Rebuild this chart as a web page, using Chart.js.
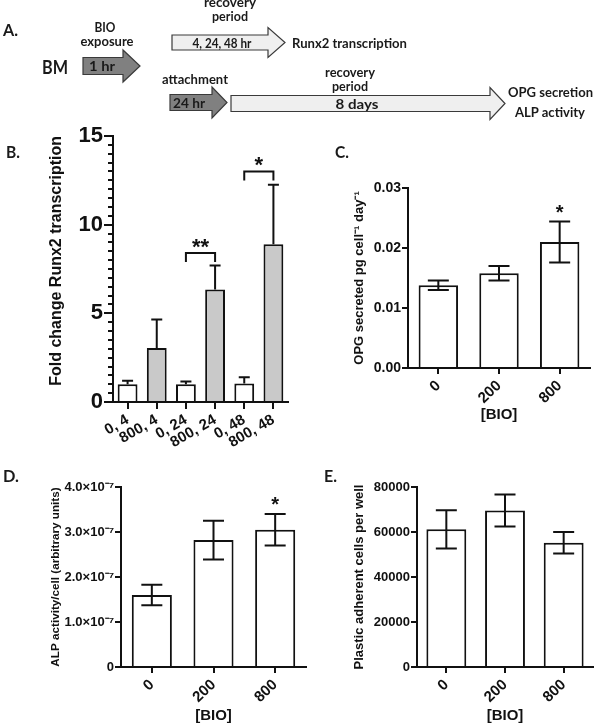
<!DOCTYPE html>
<html><head><meta charset="utf-8">
<script src="https://cdn.jsdelivr.net/npm/chart.js@4.4.1/dist/chart.umd.min.js"></script>
<style>
html,body{margin:0;padding:0;background:#fff;}
#wrap{position:relative;width:602px;height:725px;overflow:hidden;background:#fff;}
#wrap canvas,#wrap svg{position:absolute;}
</style></head>
<body><div id="wrap">
<canvas id="cB" width="300" height="330" style="left:0;top:120px"></canvas>
<canvas id="cC" width="302" height="295" style="left:300px;top:130px"></canvas>
<canvas id="cD" width="310" height="275" style="left:0;top:450px"></canvas>
<canvas id="cE" width="292" height="275" style="left:310px;top:450px"></canvas>
<svg id="ov" width="602" height="725" style="left:0;top:0;pointer-events:none" xmlns="http://www.w3.org/2000/svg"></svg>
</div>
<script>
// ---------- data ----------
const runxCategories = ['0, 4', '800, 4', '0, 24', '800, 24', '0, 48', '800, 48'];
const runxValues = [1.0, 3.05, 1.0, 6.35, 1.05, 8.9];
const runxErrors = [0.2, 1.6, 0.15, 1.35, 0.35, 3.35];
const runxTickLabels = ['0', '5', '10', '15'];
const runxBrackets = [
  { from: 2, to: 3, value: 8.4, label: '**' },
  { from: 4, to: 5, value: 13.0, label: '*' }
];

const bioCategories = ['0', '200', '800'];

const opgValues = [0.0138, 0.0158, 0.0210];
const opgErrors = [0.0008, 0.0012, 0.0034];
const opgStars = ['', '', '*'];
const opgTickLabels = ['0.00', '0.01', '0.02', '0.03'];

const alpValues = [1.6e-7, 2.82e-7, 3.05e-7];
const alpErrors = [0.23e-7, 0.43e-7, 0.35e-7];
const alpStars = ['', '', '*'];
const alpTickLabels = ['0', '1.0×10⁻⁷', '2.0×10⁻⁷', '3.0×10⁻⁷', '4.0×10⁻⁷'];

const cellValues = [61200, 69600, 55200];
const cellErrors = [8500, 7100, 4800];
const cellTickLabels = ['0', '20000', '40000', '60000', '80000'];

// ---------- chart defaults ----------
Chart.defaults.font.family = "'Liberation Sans', Arial, sans-serif";
Chart.defaults.font.weight = 'bold';
Chart.defaults.color = '#111';
Chart.defaults.animation = false;
Chart.defaults.responsive = false;
Chart.defaults.devicePixelRatio = 1;
Chart.defaults.plugins.legend.display = false;
Chart.defaults.plugins.tooltip.enabled = false;

const INK = '#111';

const errorBarPlugin = {
  id: 'errbars',
  afterDatasetsDraw(chart, args, opts) {
    const { ctx } = chart;
    const y = chart.scales.y;
    chart.data.datasets.forEach((ds, di) => {
      if (!ds.errors) return;
      const meta = chart.getDatasetMeta(di);
      meta.data.forEach((bar, i) => {
        const v = ds.data[i], e = ds.errors[i];
        const cx = bar.x;
        const yTop = y.getPixelForValue(v + e);
        const yBot = y.getPixelForValue(opts.oneSided ? v : v - e);
        ctx.save();
        ctx.strokeStyle = INK; ctx.lineWidth = 2; ctx.lineCap = 'butt';
        ctx.beginPath();
        ctx.moveTo(cx, yBot); ctx.lineTo(cx, yTop);
        ctx.moveTo(cx - opts.cap, yTop); ctx.lineTo(cx + opts.cap, yTop);
        if (!opts.oneSided) { ctx.moveTo(cx - opts.cap, yBot); ctx.lineTo(cx + opts.cap, yBot); }
        ctx.stroke();
        if (ds.stars && ds.stars[i]) {
          ctx.fillStyle = INK;
          ctx.font = 'bold ' + opts.starSize + "px 'Liberation Sans', Arial";
          ctx.textAlign = 'center'; ctx.textBaseline = 'alphabetic';
          const cy = yTop - opts.starGap;
          ctx.fillText(ds.stars[i], cx, cy + 0.57 * opts.starSize);
        }
        ctx.restore();
      });
    });
  }
};

const minorTickPlugin = {
  id: 'minorticks',
  afterDraw(chart, args, opts) {
    if (!opts.step) return;
    const { ctx } = chart;
    const y = chart.scales.y;
    const x0 = chart.chartArea.left;
    ctx.save();
    ctx.strokeStyle = INK; ctx.lineWidth = 2;
    ctx.beginPath();
    for (let k = 0; k * opts.step <= y.max + 1e-9; k++) {
      const v = k * opts.step;
      if (Math.abs(v / opts.major - Math.round(v / opts.major)) < 1e-6) continue;
      const py = Math.round(y.getPixelForValue(v));
      ctx.moveTo(x0 - opts.len, py); ctx.lineTo(x0, py);
    }
    ctx.stroke();
    ctx.restore();
  }
};

const bracketPlugin = {
  id: 'brackets',
  afterDatasetsDraw(chart, args, opts) {
    if (!opts.items) return;
    const { ctx } = chart;
    const x = chart.scales.x, y = chart.scales.y;
    ctx.save();
    ctx.strokeStyle = INK; ctx.lineWidth = 2; ctx.fillStyle = INK;
    opts.items.forEach(b => {
      const xa = x.getPixelForValue(b.from), xb = x.getPixelForValue(b.to);
      const py = y.getPixelForValue(b.value);
      ctx.beginPath();
      ctx.moveTo(xa, py + opts.leg); ctx.lineTo(xa, py); ctx.lineTo(xb, py); ctx.lineTo(xb, py + opts.leg);
      ctx.stroke();
      ctx.font = 'bold ' + opts.size + "px 'Liberation Sans', Arial";
      ctx.textAlign = 'center'; ctx.textBaseline = 'alphabetic';
      ctx.fillText(b.label, (xa + xb) / 2, py - opts.gap + 0.57 * opts.size);
    });
    ctx.restore();
  }
};

function barPanel(id, o) {
  return new Chart(document.getElementById(id), {
    type: 'bar',
    data: {
      labels: o.labels,
      datasets: [{
        data: o.values, errors: o.errors, stars: o.stars,
        backgroundColor: o.bg, borderColor: INK, borderWidth: 2, borderSkipped: 'start',
        barPercentage: o.barPct, categoryPercentage: 1
      }]
    },
    options: {
      layout: { padding: o.pad },
      scales: {
        x: {
          offset: true,
          grid: { offset: false, drawOnChartArea: false, drawTicks: true, tickLength: o.xTick, color: INK, lineWidth: 2 },
          border: { display: true, color: INK, width: 2 },
          ticks: { font: { size: o.xFont, weight: 'bold' }, minRotation: o.rot, maxRotation: o.rot, autoSkip: false, padding: o.xPad },
          title: { display: !!o.xTitle, text: o.xTitle, font: { size: 15, weight: 'bold' }, padding: { top: 0, bottom: o.xTitlePad || 0 } },
          afterFit: s => { s.height = o.xH; }
        },
        y: {
          min: 0, max: o.max,
          ticks: { stepSize: o.step, font: { size: o.yFont, weight: 'bold' }, padding: 1,
                   callback: (v, i) => o.tickLabels[i] !== undefined ? o.tickLabels[i] : '' },
          grid: { drawOnChartArea: false, drawTicks: true, tickLength: o.yTick, color: INK, lineWidth: 2 },
          border: { display: true, color: INK, width: 2 },
          title: { display: true, text: o.yTitle, align: o.yAlign || 'center', font: { size: o.yTitleSize, weight: 'bold' }, padding: { top: o.yTitlePad, bottom: 0 } },
          afterFit: s => { s.width = o.yW; }
        }
      },
      plugins: {
        errbars: { oneSided: !!o.oneSided, cap: o.cap, starSize: 20, starGap: 14 },
        minorticks: o.minor || {},
        brackets: o.brackets || {}
      }
    },
    plugins: [errorBarPlugin, minorTickPlugin, bracketPlugin]
  });
}

// Panel B
barPanel('cB', {
  labels: runxCategories, values: runxValues, errors: runxErrors, oneSided: true,
  bg: ctx => (ctx.dataIndex % 2 ? '#c9c9c9' : '#ffffff'),
  barPct: 0.68, cap: 5.5,
  pad: { left: 0, top: 16, right: 12, bottom: 0 },
  xTick: 7, xFont: 15, rot: 30, xPad: 2, xH: 48,
  max: 15, step: 5, yFont: 22, yTick: 9, tickLabels: runxTickLabels,
  yTitle: 'Fold change Runx2 transcription', yTitleSize: 16, yTitlePad: 47, yAlign: 'end', yW: 113,
  minor: { step: 0.5, major: 5, len: 5 },
  brackets: { items: runxBrackets, leg: 9, size: 22, gap: 12 }
});

// Panel C
barPanel('cC', {
  labels: bioCategories, values: opgValues, errors: opgErrors, stars: opgStars,
  bg: '#ffffff', barPct: 0.65, cap: 10.5,
  pad: { left: 0, top: 58, right: 12, bottom: 0 },
  xTick: 6, xFont: 15, rot: 44, xPad: 3, xH: 57, xTitle: '[BIO]', xTitlePad: 1,
  max: 0.03, step: 0.01, yFont: 14, yTick: 6, tickLabels: opgTickLabels,
  yTitle: 'OPG secreted pg cell⁻¹ day⁻¹', yTitleSize: 13, yTitlePad: 52, yW: 108
});

// Panel D
barPanel('cD', {
  labels: bioCategories, values: alpValues, errors: alpErrors, stars: alpStars,
  bg: '#ffffff', barPct: 0.65, cap: 10.5,
  pad: { left: 0, top: 37, right: 4, bottom: 0 },
  xTick: 6, xFont: 15, rot: 44, xPad: 3, xH: 58, xTitle: '[BIO]', xTitlePad: 0,
  max: 4e-7, step: 1e-7, yFont: 13, yTick: 6, tickLabels: alpTickLabels,
  yTitle: 'ALP activity/cell (arbitrary units)', yTitleSize: 11.7, yTitlePad: 49, yW: 121
});

// Panel E
barPanel('cE', {
  labels: bioCategories, values: cellValues, errors: cellErrors,
  bg: '#ffffff', barPct: 0.68, cap: 10.5,
  pad: { left: 0, top: 37, right: 9, bottom: 0 },
  xTick: 6, xFont: 15, rot: 44, xPad: 3, xH: 58, xTitle: '[BIO]', xTitlePad: 0,
  max: 80000, step: 20000, yFont: 13, yTick: 6, tickLabels: cellTickLabels,
  yTitle: 'Plastic adherent cells per well', yTitleSize: 13, yTitlePad: 42, yW: 107
});

// ---------- Panel A diagram and panel letters (SVG, real text) ----------
const NS = 'http://www.w3.org/2000/svg';
const svg = document.getElementById('ov');
function arrow(x0, x1, x2, cy, bh, hh, fill) {
  const p = document.createElementNS(NS, 'polygon');
  p.setAttribute('points', [
    [x0, cy - bh], [x1, cy - bh], [x1, cy - hh], [x2, cy], [x1, cy + hh], [x1, cy + bh], [x0, cy + bh]
  ].map(a => a.join(',')).join(' '));
  p.setAttribute('fill', fill); p.setAttribute('stroke', '#3a3a3a'); p.setAttribute('stroke-width', '1.2');
  svg.appendChild(p);
}
function txt(s, x, y, size, anchor, len, weight) {
  const t = document.createElementNS(NS, 'text');
  t.textContent = s;
  t.setAttribute('x', x); t.setAttribute('y', y);
  t.setAttribute('font-family', "Lato, 'Liberation Sans', sans-serif");
  t.setAttribute('font-weight', weight || 700);
  t.setAttribute('font-size', size);
  t.setAttribute('fill', '#1a1a1a');
  t.setAttribute('text-anchor', anchor || 'start');
  if (len) { t.setAttribute('textLength', len); t.setAttribute('lengthAdjust', 'spacingAndGlyphs'); }
  svg.appendChild(t);
}
arrow(83, 123, 140, 66, 8.5, 16, '#808080');
arrow(172, 268, 285, 42.5, 7.5, 15, '#efefef');
arrow(170, 212, 227, 102.5, 8, 15.5, '#808080');
arrow(231, 490, 505, 103.5, 8, 16, '#efefef');

txt('A.', 3, 36, 17, 'start', 15);
txt('BIO', 105, 32, 14, 'middle', 21);
txt('exposure', 107, 46, 14, 'middle', 53);
txt('BM', 42, 74, 19, 'start', 26);
txt('1 hr', 102, 71, 14, 'middle', 26);
txt('recovery', 230, 7, 14, 'middle', 52);
txt('period', 230, 21, 14, 'middle', 36);
txt('4, 24, 48 hr', 222, 47.5, 14, 'middle', 59);
txt('Runx2 transcription', 292, 47.5, 14, 'start', 115);
txt('attachment', 195, 84, 14, 'middle', 66);
txt('24 hr', 189, 107.5, 14, 'middle', 32);
txt('recovery', 350, 77, 14, 'middle', 50);
txt('period', 350, 91, 14, 'middle', 36);
txt('8 days', 357, 108.5, 14, 'middle', 43);
txt('OPG secretion', 508, 97, 14, 'start', 85);
txt('ALP activity', 515, 117, 14, 'start', 70);

txt('B.', 6, 158, 17, 'start', 14);
txt('C.', 335, 158, 17, 'start', 14);
txt('D.', 3, 482, 17, 'start', 16);
txt('E.', 324, 482, 17, 'start', 13);
</script>
</body></html>
